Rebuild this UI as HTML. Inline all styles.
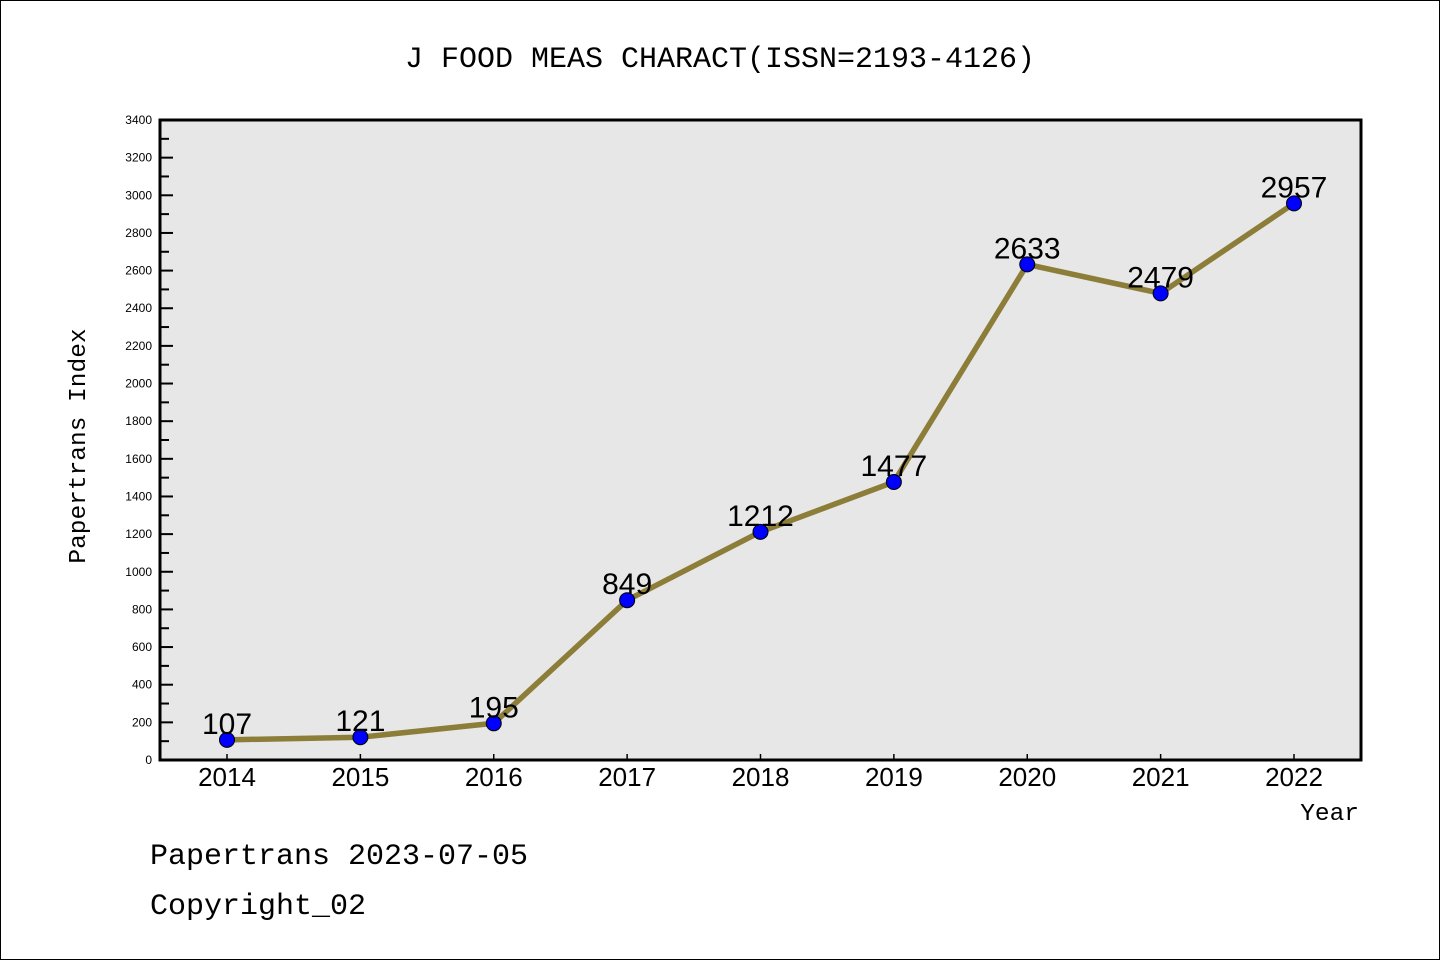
<!DOCTYPE html>
<html><head><meta charset="utf-8"><style>
body{margin:0;background:#fff;}
svg{display:block;font-family:"Liberation Mono","DejaVu Sans Mono",monospace;}
</style></head><body>
<svg id="chart" width="1440" height="960">
<rect x="0.5" y="0.5" width="1439" height="959" fill="#fff" stroke="#000"/>
<text x="720" y="67" font-size="30" text-anchor="middle">J FOOD MEAS CHARACT(ISSN=2193-4126)</text>
<rect x="160" y="120" width="1201" height="640" fill="#e7e7e7" stroke="#000" stroke-width="3"/>
<g id="yaxis"></g>
<g id="xaxis"></g>
<g id="series"></g>
<text x="85" y="446" font-size="24.5" text-anchor="middle" transform="rotate(-90 85 446)">Papertrans Index</text>
<text x="1359" y="820" font-size="24.5" text-anchor="end">Year</text>
<text x="150" y="864" font-size="30">Papertrans 2023-07-05</text>
<text x="150" y="914" font-size="30">Copyright_02</text>
</svg>
<script>
const years = [2014,2015,2016,2017,2018,2019,2020,2021,2022];
const values = [107,121,195,849,1212,1477,2633,2479,2957];
const yTicks = [0,200,400,600,800,1000,1200,1400,1600,1800,2000,2200,2400,2600,2800,3000,3200,3400];
const NS="http://www.w3.org/2000/svg";
const x = v => 227 + (v-2014)*(1294-227)/8;
const y = v => 760 - v*640/3400;
function mk(tag, attrs, parent, txt){const e=document.createElementNS(NS,tag);for(const k in attrs)e.setAttribute(k,attrs[k]);if(txt!==undefined)e.textContent=txt;parent.appendChild(e);return e;}
const ya=document.getElementById('yaxis'), xa=document.getElementById('xaxis'), s=document.getElementById('series');
yTicks.forEach((t,i)=>{
  const l=mk('line',{x1:160,x2:173,y1:y(t),y2:y(t),stroke:'#000','stroke-width':2},ya);
  
  
  const tx=mk('text',{x:152,y:y(t)+4,'font-size':12,'text-anchor':'end','font-family':'Liberation Sans, sans-serif'},ya,String(t));
  
  
  if(i<yTicks.length-1){
    const m=mk('line',{x1:160,x2:169,y1:y(t+100),y2:y(t+100),stroke:'#000','stroke-width':2},ya);
    
    
  }
});
years.forEach(yr=>{
  const l=mk('line',{x1:x(yr),x2:x(yr),y1:754,y2:760,stroke:'#000','stroke-width':1.5},xa);
  
  
  const tx=mk('text',{x:x(yr),y:786,'font-size':26,'text-anchor':'middle','font-family':'Liberation Sans, sans-serif'},xa,String(yr));
  
  
});
const pts=years.map((yr,i)=>x(yr)+','+y(values[i])).join(' ');
const pl=mk('polyline',{points:pts,fill:'none',stroke:'#8c7d38','stroke-width':5.5,'stroke-linejoin':'round'},s);


years.forEach((yr,i)=>{
  const c=mk('circle',{cx:x(yr),cy:y(values[i]),r:7.5,fill:'#0000ff',stroke:'#000','stroke-width':1},s);
  
  
  const t=mk('text',{x:x(yr),y:y(values[i])-6,'font-size':30,'text-anchor':'middle','font-family':'Liberation Sans, sans-serif'},s,String(values[i]));
  
  
});
</script>
</body></html>
